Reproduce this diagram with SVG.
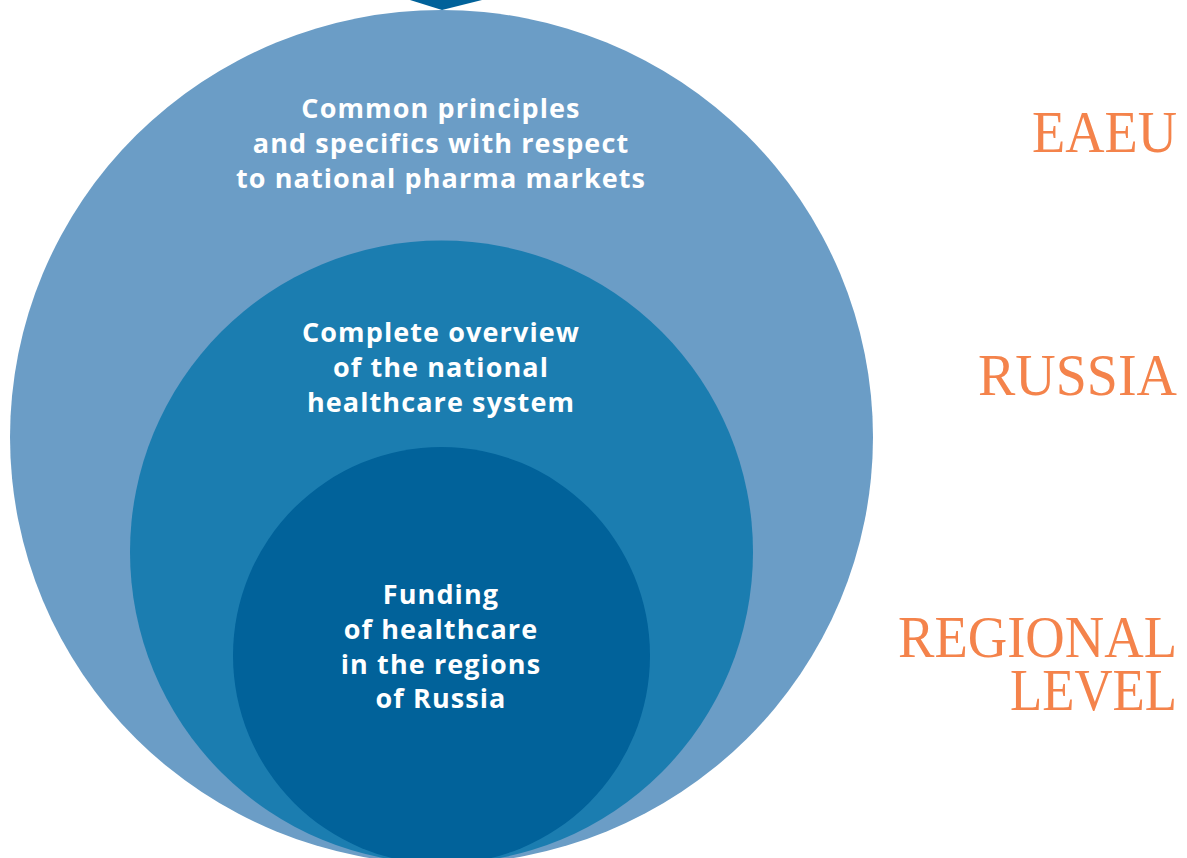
<svg xmlns="http://www.w3.org/2000/svg" width="1187" height="858" viewBox="0 0 1187 858">
<style>
.lbl{font-family:"Open Sans","Liberation Sans",sans-serif;font-weight:700;font-size:27px;letter-spacing:1.1px;fill:#ffffff;text-anchor:middle;}
.lvl{font-family:"Liberation Serif","DejaVu Serif",serif;font-size:59px;fill:#f4834b;text-anchor:end;}
</style>
<rect width="1187" height="858" fill="#ffffff"/>
<g id="eaeu">
<ellipse cx="441.5" cy="437" rx="431.5" ry="427" fill="#6b9dc6"/>
<text class="lbl" x="441" y="118">Common principles</text>
<text class="lbl" x="441" y="153">and specifics with respect</text>
<text class="lbl" x="441" y="188">to national pharma markets</text>
</g>
<g id="russia">
<circle cx="441.5" cy="552" r="311.5" fill="#1b7db0"/>
<text class="lbl" x="441" y="342">Complete overview</text>
<text class="lbl" x="441" y="377">of the national</text>
<text class="lbl" x="441" y="412">healthcare system</text>
</g>
<g id="regional">
<circle cx="441.5" cy="655.5" r="208.5" fill="#01629a"/>
<text class="lbl" x="441" y="604">Funding</text>
<text class="lbl" x="441" y="639">of healthcare</text>
<text class="lbl" x="441" y="674">in the regions</text>
<text class="lbl" x="441" y="708">of Russia</text>
</g>
<g id="connectors">
<polygon points="410,0 482,0 442,10" fill="#01629a"/>
</g>
<g id="levels">
<text class="lvl" x="1177" y="152" textLength="145" lengthAdjust="spacingAndGlyphs">EAEU</text>
<text class="lvl" x="1177" y="395" textLength="199" lengthAdjust="spacingAndGlyphs">RUSSIA</text>
<text class="lvl" x="1177" y="657" textLength="279" lengthAdjust="spacingAndGlyphs">REGIONAL</text>
<text class="lvl" x="1177" y="710" textLength="167" lengthAdjust="spacingAndGlyphs">LEVEL</text>
</g>
</svg>
